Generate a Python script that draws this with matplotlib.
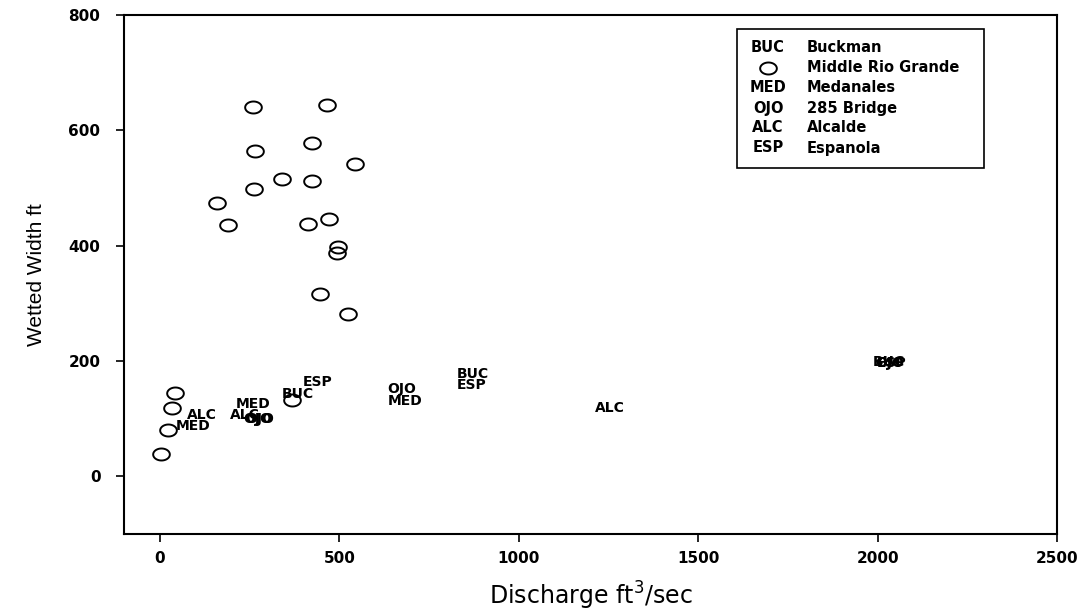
import matplotlib
matplotlib.use("Agg")
import matplotlib.pyplot as plt
from matplotlib.path import Path
from matplotlib.patches import Rectangle
import numpy as np

# Middle Rio Grande sites (open circles)
mrg_q = [259, 465, 265, 424, 543, 340, 424, 262, 159, 190, 412, 471, 496, 493,
         446, 524, 42, 33, 22, 3, 368]
mrg_w = [641, 644, 565, 578, 542, 516, 513, 499, 474, 435, 438, 447, 398, 388,
         317, 282, 145, 118, 81, 38, 133]

# text-coded sites: code, discharge, width
site_codes = ["ESP", "BUC", "MED", "ALC", "OJO", "OJO", "ALC", "MED",
              "OJO", "MED", "BUC", "ESP", "ALC", "BUC", "OJO", "ESP"]
site_q = [440, 385, 259, 237, 273, 278, 117, 93,
          674, 683, 873, 870, 1254, 2032, 2035, 2038]
site_w = [163, 142, 125, 107, 99, 99, 106, 88,
          152, 130, 177, 159, 119, 198, 197, 196]

legend_codes = ["BUC", "", "MED", "OJO", "ALC", "ESP"]
legend_names = ["Buckman", "Middle Rio Grande", "Medanales", "285 Bridge",
                "Alcalde", "Espanola"]

plt.rcParams['font.family'] = ['Liberation Sans', 'DejaVu Sans']
wide = 'DejaVu Sans'

fig = plt.figure(figsize=(10.81, 6.16), dpi=100)
ax = fig.add_axes([124 / 1081, 1 - 534 / 616, 933 / 1081, 519 / 616])

# slightly flattened circle marker
t = np.linspace(0, 2 * np.pi, 60)
ellipse = Path(np.column_stack([np.cos(t), 0.72 * np.sin(t)]), closed=True)

ax.plot(mrg_q, mrg_w, linestyle="none", marker=ellipse, markersize=12,
        markerfacecolor="none", markeredgecolor="black", markeredgewidth=1.4)

for code, q, w in zip(site_codes, site_q, site_w):
    ax.text(q, w, code, ha="center", va="center", fontsize=10,
            fontweight="bold", color="black", family=wide)

ax.set_xlim(-100, 2500)
ax.set_ylim(-100, 800)
ax.set_xticks([0, 500, 1000, 1500, 2000, 2500])
ax.set_yticks([0, 200, 400, 600, 800])
ax.tick_params(direction="out", length=6, width=1.2)
for lab in ax.get_xticklabels() + ax.get_yticklabels():
    lab.set_fontweight("bold")
    lab.set_family(wide)
    lab.set_fontsize(11)
ax.tick_params(axis="x", pad=6)
ax.tick_params(axis="y", pad=11)
for sp in ax.spines.values():
    sp.set_linewidth(1.5)

ax.set_xlabel("Discharge ft$^3$/sec", fontsize=17, labelpad=10, family=wide)
ax.set_ylabel("Wetted Width ft", fontsize=15, labelpad=16)

# legend box drawn in axes fraction coords
def fx(px):
    return (px - 124) / 933

def fy(py):
    return (534 - py) / 519

ax.add_patch(Rectangle((fx(737), fy(168)), fx(984) - fx(737), fy(29) - fy(168),
                       transform=ax.transAxes, facecolor="white",
                       edgecolor="black", linewidth=1.2, zorder=5))
rows = [48, 68, 88, 108, 128, 148]
for code, name, py in zip(legend_codes, legend_names, rows):
    if code:
        ax.text(fx(768), fy(py), code, transform=ax.transAxes, ha="center",
                va="center", fontsize=10.5, fontweight="bold", zorder=6,
                family=wide)
    else:
        ax.plot([fx(768)], [fy(py)], transform=ax.transAxes, marker=ellipse,
                markersize=12, markerfacecolor="none", markeredgecolor="black",
                markeredgewidth=1.4, linestyle="none", zorder=6)
    ax.text(fx(807), fy(py), name, transform=ax.transAxes, ha="left",
            va="center", fontsize=10.5, fontweight="bold", zorder=6,
            family=wide)

fig.savefig("out.png", dpi=100)
